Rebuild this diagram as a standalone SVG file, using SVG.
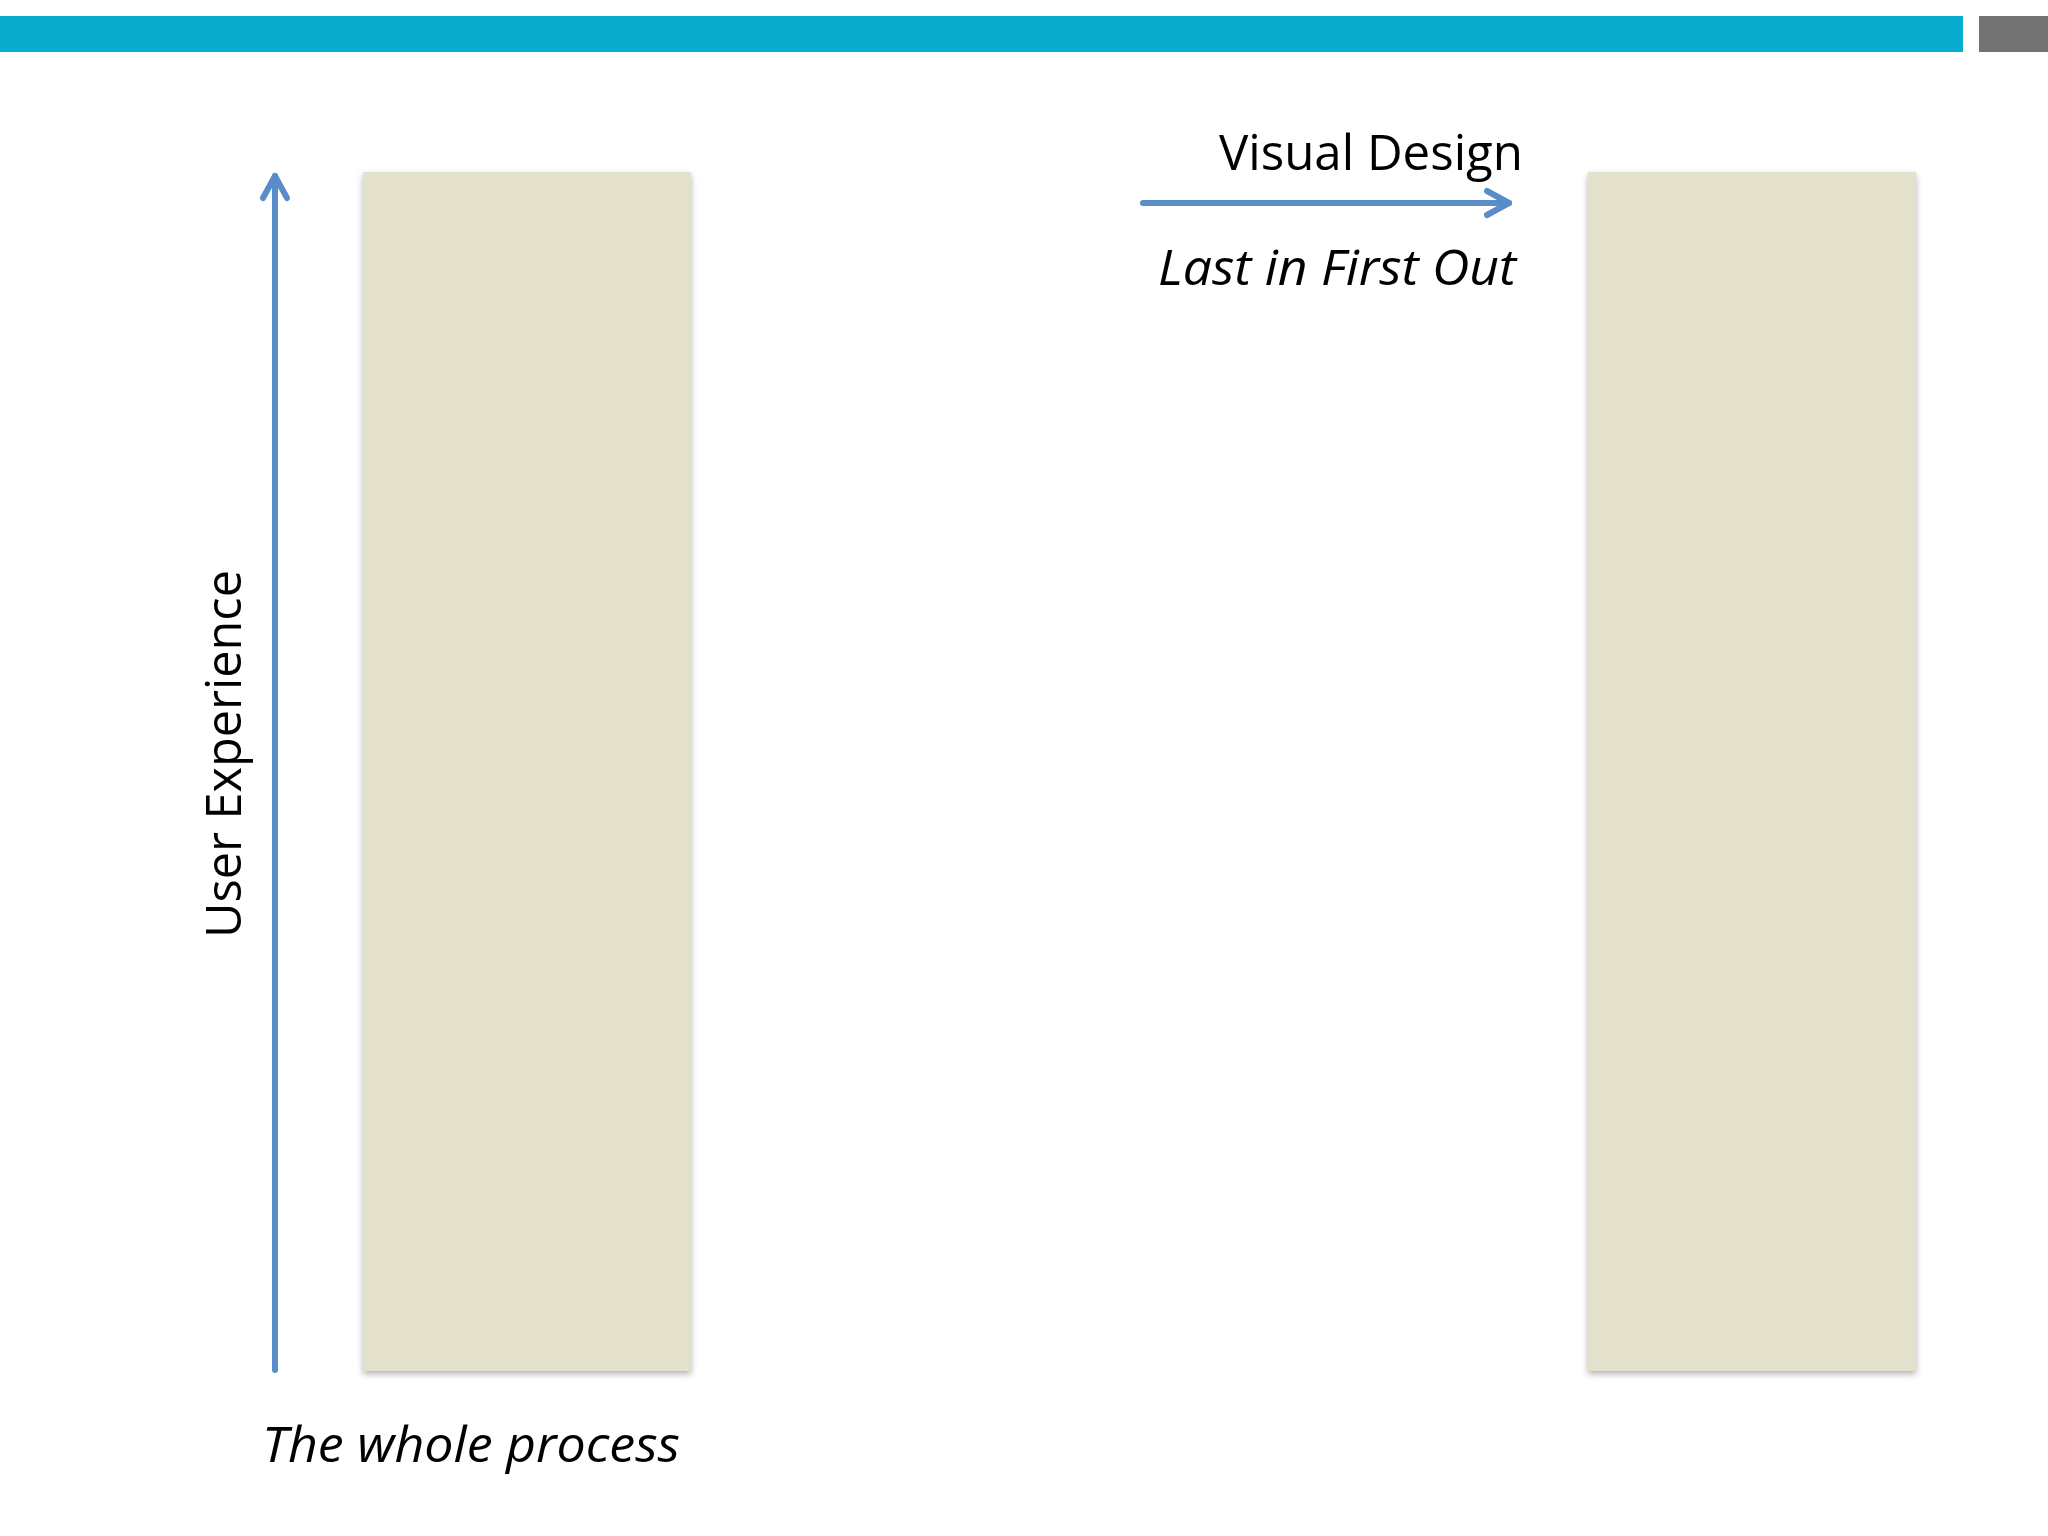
<svg xmlns="http://www.w3.org/2000/svg" width="2048" height="1536" viewBox="0 0 2048 1536">
  <style>
    .col { fill: #E3E0CB; filter: url(#shadow); }
    .lbl { font-family: "Open Sans", "Liberation Sans", sans-serif; font-size: 50px; fill: #000; }
    .it { font-style: italic; }
    .conn { stroke: #5A8CC8; stroke-width: 6; fill: none; stroke-linecap: round; }
  </style>
  <defs>
    <filter id="shadow" x="-5%" y="-5%" width="110%" height="110%">
      <feDropShadow dx="0" dy="3" stdDeviation="3" flood-color="#000" flood-opacity="0.3"/>
    </filter>
    <marker id="arrow" markerUnits="userSpaceOnUse" viewBox="-30 -20 40 40" markerWidth="40" markerHeight="40" refX="0" refY="0" orient="auto">
      <polyline points="-22,-12 0,0 -22,12" fill="none" stroke="#5A8CC8" stroke-width="6" stroke-linecap="round" stroke-linejoin="round"/>
    </marker>
  </defs>
  <rect width="2048" height="1536" fill="#FFFFFF"/>
  <g id="header">
    <rect x="0" y="16" width="1963" height="36" fill="#0AACCE"/>
    <rect x="1979" y="16" width="69" height="36" fill="#737373"/>
  </g>
  <g id="col-left">
    <rect class="col" x="363" y="172" width="328" height="1199"/>
  </g>
  <g id="col-right">
    <rect class="col" x="1588" y="172" width="328" height="1199"/>
  </g>
  <g id="connectors">
    <line class="conn" x1="275" y1="1370" x2="275" y2="176" marker-end="url(#arrow)"/>
    <line class="conn" x1="1143" y1="203" x2="1509" y2="203" marker-end="url(#arrow)"/>
  </g>
  <g id="label-ux">
    <text class="lbl" transform="translate(241,938) rotate(-90)" textLength="368" lengthAdjust="spacingAndGlyphs">User Experience</text>
  </g>
  <g id="label-visual">
    <text class="lbl" x="1219" y="170" textLength="304" lengthAdjust="spacingAndGlyphs">Visual Design</text>
  </g>
  <g id="label-lifo">
    <text class="lbl it" x="1158" y="285" textLength="358" lengthAdjust="spacingAndGlyphs">Last in First Out</text>
  </g>
  <g id="label-whole">
    <text class="lbl it" x="262" y="1462" textLength="418" lengthAdjust="spacingAndGlyphs">The whole process</text>
  </g>
</svg>
